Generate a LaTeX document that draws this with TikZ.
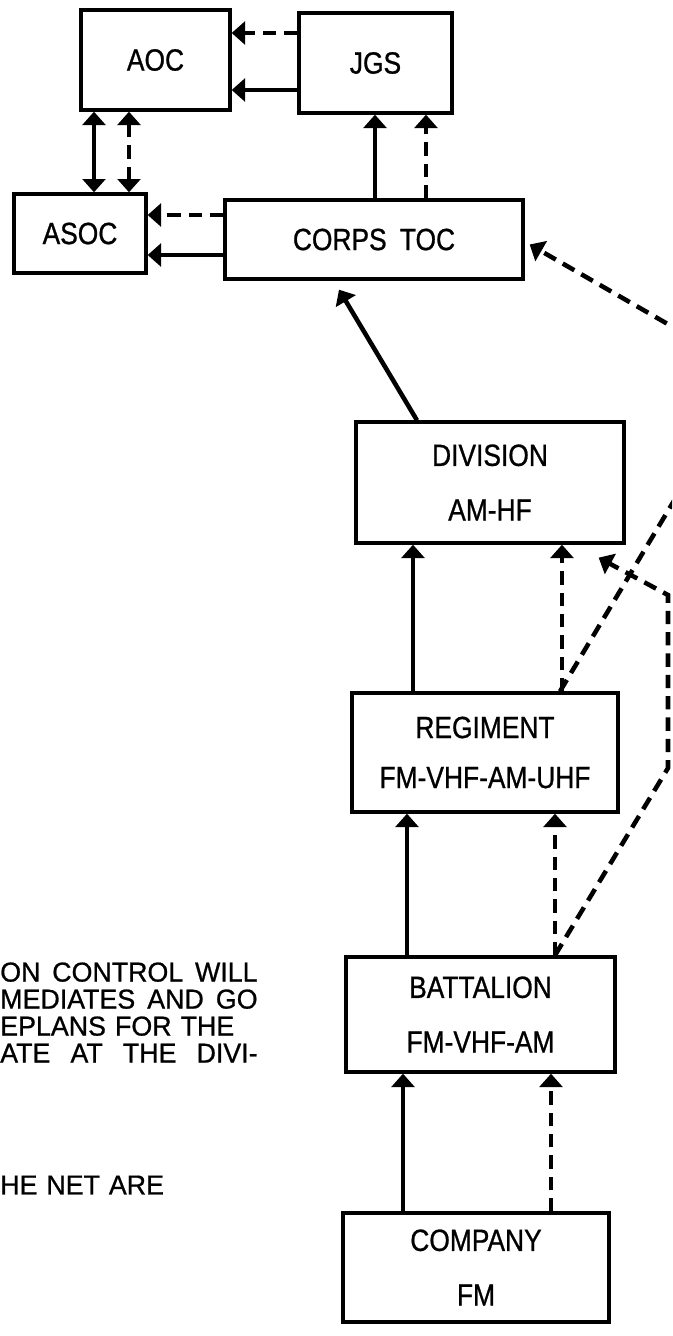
\documentclass[tikz,border=0pt]{standalone}
\usepackage{fontspec}
\setmainfont{Liberation Sans}[FakeStretch=0.86,WordSpace=1.8,FakeBold=0.8]
\newfontfamily\notefont{Liberation Sans}[FakeStretch=0.98,WordSpace=1.8,FakeBold=0.8]
\usetikzlibrary{arrows.meta}

\begin{document}
\begin{tikzpicture}[
    x=0.75pt, y=-0.75pt,
    font=\fontsize{23}{26}\selectfont,
    box/.style={rectangle, draw, line width=2.5pt, align=center, inner sep=0pt},
    arrow/.style={-{Triangle[width=17pt,length=10pt]}, line width=3.4pt},
    dasharrow/.style={arrow, dash pattern=on 10pt off 6pt},
    twoway/.style={{Triangle[width=17pt,length=10pt]}-{Triangle[width=17pt,length=10pt]}},
    note/.style={anchor=west, inner sep=0pt, align=left, font=\notefont\fontsize{20.5}{20.25}\selectfont}
]

\path[use as bounding box, clip] (0,0) rectangle (672,1336);

% Top level
\node[box, minimum width=111.75pt, minimum height=75pt] (aoc) at (155.5,60) {AOC};
\node[box, minimum width=114.75pt, minimum height=75pt] (jgs) at (375.5,63) {JGS};

% Corps level
\node[box, minimum width=99pt, minimum height=59.25pt] (asoc) at (80,233.5) {ASOC};
\node[box, minimum width=223.5pt, minimum height=59.25pt] (corps) at (374,239.5) {CORPS TOC};

% Lower echelons
\node[box, minimum width=201pt, minimum height=90.75pt] (division) at (490,482.5) {DIVISION\\[15pt]AM-HF};
\node[box, minimum width=199.5pt, minimum height=89.25pt] (regiment) at (485,752.5) {REGIMENT\\[11.5pt]FM-VHF-AM-UHF};
\node[box, minimum width=201.75pt, minimum height=86.25pt] (battalion) at (480.5,1014.5) {BATTALION\\[15pt]FM-VHF-AM};
\node[box, minimum width=199.5pt, minimum height=81.75pt] (company) at (476,1267.5) {COMPANY\\[15pt]FM};

% Text on the left
\node[note] (note1) at (0,1012.5)
    {\makebox[193pt][s]{ON CONTROL WILL}\\
     \makebox[193pt][s]{MEDIATES AND GO}\\
     \makebox[175.5pt][s]{EPLANS FOR THE}\\
     \makebox[193pt][s]{ATE AT THE DIVI-}};
\node[note] (note2) at (0,1185) {\makebox[120.75pt][s]{HE NET ARE}};

% JGS to AOC
\draw[dasharrow] (jgs.west |- 0,33) -- (aoc.east |- 0,33);
\draw[arrow] (jgs.west |- 0,90) -- (aoc.east |- 0,90);

% AOC and ASOC
\draw[arrow, twoway] (asoc.north -| 94,0) -- (aoc.south -| 94,0);
\draw[dasharrow, twoway] (asoc.north -| 129,0) -- (aoc.south -| 129,0);

% Corps TOC to JGS and ASOC
\draw[arrow] (corps.north -| 375,0) -- (jgs.south -| 375,0);
\draw[dasharrow] (corps.north -| 426,0) -- (jgs.south -| 426,0);
\draw[dasharrow] (corps.west |- 0,215) -- (asoc.east |- 0,215);
\draw[arrow] (corps.west |- 0,255) -- (asoc.east |- 0,255);

% Division to Corps TOC
\draw[arrow] (division.north -| 417,0) -- ([shift={(-35,9)}]corps.south);

% Up the chain
\draw[arrow] (regiment.north -| 413,0) -- (division.south -| 413,0);
\draw[dasharrow] (regiment.north -| 562,0) -- (division.south -| 562,0);
\draw[arrow] (battalion.north -| 407,0) -- (regiment.south -| 407,0);
\draw[dasharrow] (battalion.north -| 555,0) -- (regiment.south -| 555,0);
\draw[arrow] (company.north -| 403,0) -- (battalion.south -| 403,0);
\draw[dasharrow] (company.north -| 551,0) -- (battalion.south -| 551,0);

% Skip-echelon links
\coordinate (bend1) at (668,768);
\coordinate (bend2) at (668,595);
\coordinate (bend3) at (751,372);
\draw[dasharrow] (battalion.north -| 555,0) -- (bend1) -- (bend2) -- ([shift={(-27,13)}]division.south east);
\draw[dasharrow] (regiment.north -| 560,0) -- (bend3) -- ([shift={(5,5)}]corps.east);

\end{tikzpicture}
\end{document}
